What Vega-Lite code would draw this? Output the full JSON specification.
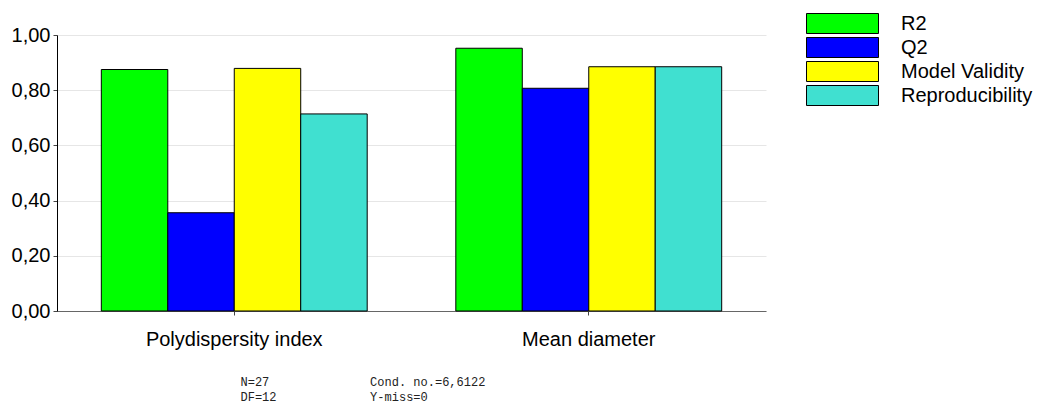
{
  "$schema": "https://vega.github.io/schema/vega-lite/v6.json",
  "autosize": "none",
  "width": 709,
  "height": 276,
  "padding": {"left": 57, "top": 35, "right": 274, "bottom": 99},
  "background": "white",
  "config": {
    "font": "Liberation Sans",
    "view": {"stroke": null}
  },
  "data": {
    "values": [
      {"response": "Polydispersity index", "series": "R2", "value": 0.875},
      {"response": "Polydispersity index", "series": "Q2", "value": 0.356},
      {"response": "Polydispersity index", "series": "Model Validity", "value": 0.879},
      {"response": "Polydispersity index", "series": "Reproducibility", "value": 0.714},
      {"response": "Mean diameter", "series": "R2", "value": 0.952},
      {"response": "Mean diameter", "series": "Q2", "value": 0.807},
      {"response": "Mean diameter", "series": "Model Validity", "value": 0.885},
      {"response": "Mean diameter", "series": "Reproducibility", "value": 0.885}
    ]
  },
  "mark": {"type": "bar", "stroke": "black", "strokeWidth": 1},
  "encoding": {
    "x": {
      "field": "response",
      "type": "nominal",
      "sort": ["Polydispersity index", "Mean diameter"],
      "scale": {"paddingInner": 0.25, "paddingOuter": 0.125},
      "axis": {
        "labelAngle": 0,
        "labelFontSize": 20,
        "labelColor": "black",
        "labelPadding": 14,
        "domainColor": "#666666",
        "tickColor": "#444444",
        "tickSize": 4,
        "title": [
          "N=27\u00a0\u00a0\u00a0\u00a0\u00a0\u00a0\u00a0\u00a0\u00a0\u00a0\u00a0\u00a0\u00a0\u00a0Cond. no.=6,6122",
          "DF=12\u00a0\u00a0\u00a0\u00a0\u00a0\u00a0\u00a0\u00a0\u00a0\u00a0\u00a0\u00a0\u00a0Y-miss=0"
        ],
        "titleFont": "Liberation Mono",
        "titleFontSize": 12,
        "titleFontWeight": "normal",
        "titleColor": "#222222",
        "titleAlign": "left",
        "titleAnchor": "start",
        "titleX": 183,
        "titleY": 65,
        "titleLineHeight": 15
      }
    },
    "xOffset": {
      "field": "series",
      "type": "nominal",
      "sort": ["R2", "Q2", "Model Validity", "Reproducibility"],
      "scale": {"paddingInner": 0, "paddingOuter": 0}
    },
    "y": {
      "field": "value",
      "type": "quantitative",
      "scale": {"domain": [0, 1], "nice": false},
      "axis": {
        "title": null,
        "values": [0, 0.2, 0.4, 0.6, 0.8, 1],
        "labelExpr": "replace(format(datum.value, '.2f'), '.', ',')",
        "labelFontSize": 20,
        "labelColor": "black",
        "labelPadding": 3,
        "tickSize": 4,
        "tickColor": "#444444",
        "domainColor": "black",
        "gridColor": "#e6e6e6"
      }
    },
    "color": {
      "field": "series",
      "type": "nominal",
      "sort": ["R2", "Q2", "Model Validity", "Reproducibility"],
      "scale": {
        "domain": ["R2", "Q2", "Model Validity", "Reproducibility"],
        "range": ["#00ff00", "#0000ff", "#ffff00", "#40e0d0"]
      },
      "legend": {
        "title": null,
        "orient": "none",
        "legendX": 775,
        "legendY": -22,
        "padding": 0,
        "symbolType": "M-3.6,-1L3.6,-1L3.6,1L-3.6,1Z",
        "symbolSize": 400,
        "symbolStrokeColor": "black",
        "symbolStrokeWidth": 1,
        "symbolOpacity": 1,
        "labelFontSize": 20,
        "labelColor": "black",
        "labelOffset": 48,
        "rowPadding": -1,
        "symbolOffset": 0
      }
    }
  }
}
